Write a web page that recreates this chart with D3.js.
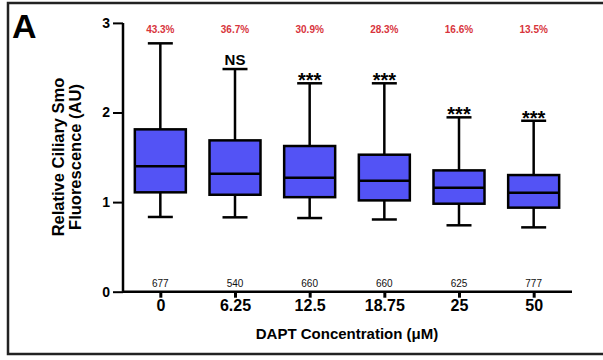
<!DOCTYPE html>
<html><head><meta charset="utf-8">
<script src="https://cdn.jsdelivr.net/npm/d3@7"></script>
<style>body{margin:0;background:#fff}svg{display:block}text{font-family:"Liberation Sans",Arial,sans-serif}</style>
</head><body>
<svg id="c" width="603" height="360"></svg>
<script>
const categories = ["0","6.25","12.5","18.75","25","50"];
const whiskerLow = [0.834,0.830,0.822,0.806,0.741,0.718];
const q1 = [1.109,1.082,1.055,1.019,0.982,0.938];
const median = [1.400,1.317,1.272,1.238,1.160,1.105];
const q3 = [1.812,1.689,1.626,1.529,1.354,1.302];
const whiskerHigh = [2.772,2.485,2.326,2.326,1.946,1.908];
const percents = ["43.3%","36.7%","30.9%","28.3%","16.6%","13.5%"];
const counts = ["677","540","660","660","625","777"];
const signif = ["","NS","***","***","***","***"];
const yTicks = [0,1,2,3];

const svg = d3.select("#c");
// frame
svg.append("rect").attr("x",8).attr("y",3).attr("width",700).attr("height",351)
  .attr("fill","none").attr("stroke","#222").attr("stroke-width",2.5);

const x = d3.scalePoint().domain(categories).range([123,571]).padding(0.5);
const y = d3.scaleLinear().domain([0,3]).range([291.7,22.9]);

// y axis
const ya = svg.append("g").attr("transform","translate(123,0)")
  .call(d3.axisLeft(y).tickValues(yTicks).tickSize(10).tickPadding(3).tickFormat(d3.format("d")));
ya.select(".domain").attr("d","M0,"+y(3)+"V"+y(0)).attr("stroke","#000").attr("stroke-width",2.5);
ya.selectAll(".tick line").attr("stroke","#000").attr("stroke-width",2);
ya.selectAll(".tick text").attr("font-size",14).attr("font-weight","bold").attr("fill","#000");

// x axis
const xa = svg.append("g").attr("transform","translate(0,"+y(0)+")")
  .call(d3.axisBottom(x).tickSize(6).tickPadding(2));
xa.select(".domain").attr("d","M123,0H572").attr("stroke","#000").attr("stroke-width",2.5);
xa.selectAll(".tick line").attr("stroke","#000").attr("stroke-width",3);
xa.selectAll(".tick text").attr("font-size",16).attr("font-weight","bold").attr("fill","#000");

const bw = 51, cw = 25;
const g = svg.append("g");
categories.forEach((c,i)=>{
  const cx = x(c);
  const gg = g.append("g").attr("stroke","#000").attr("stroke-width",2.5);
  gg.append("line").attr("x1",cx).attr("x2",cx).attr("y1",y(whiskerHigh[i])).attr("y2",y(whiskerLow[i]));
  gg.append("line").attr("x1",cx-cw/2).attr("x2",cx+cw/2).attr("y1",y(whiskerHigh[i])).attr("y2",y(whiskerHigh[i]));
  gg.append("line").attr("x1",cx-cw/2).attr("x2",cx+cw/2).attr("y1",y(whiskerLow[i])).attr("y2",y(whiskerLow[i]));
  gg.append("rect").attr("x",cx-bw/2).attr("width",bw).attr("y",y(q3[i])).attr("height",y(q1[i])-y(q3[i]))
    .attr("fill","#5353f5");
  gg.append("line").attr("x1",cx-bw/2).attr("x2",cx+bw/2).attr("y1",y(median[i])).attr("y2",y(median[i]));
  // percent
  svg.append("text").attr("x",cx).attr("y",33).attr("text-anchor","middle")
    .attr("font-size",10).attr("font-weight","bold").attr("fill","#d8343c").text(percents[i]);
  // counts
  svg.append("text").attr("x",cx).attr("y",287).attr("text-anchor","middle")
    .attr("font-size",10).attr("fill","#111").text(counts[i]);
  // significance
  if (signif[i]) {
    const isNS = signif[i]==="NS";
    svg.append("text").attr("x",cx).attr("y",y(whiskerHigh[i]) + (isNS?-4:4)).attr("text-anchor","middle")
      .attr("font-size",isNS?15:20).attr("font-weight","bold").attr("fill","#000").text(signif[i]);
  }
});

// titles
svg.append("text").attr("x",347).attr("y",339).attr("text-anchor","middle")
  .attr("font-size",15).attr("font-weight","bold").attr("fill","#000").text("DAPT Concentration (μM)");
const yt = svg.append("text").attr("transform","translate(64,157) rotate(-90)").attr("text-anchor","middle")
  .attr("font-size",16.5).attr("font-weight","bold").attr("fill","#000");
yt.append("tspan").attr("x",0).attr("dy",0).text("Relative Ciliary Smo");
yt.append("tspan").attr("x",0).attr("dy",17).text("Fluorescence (AU)");

svg.append("text").attr("x",12).attr("y",38).attr("font-size",34).attr("font-weight","bold").attr("fill","#000").text("A");
</script>
</body></html>
